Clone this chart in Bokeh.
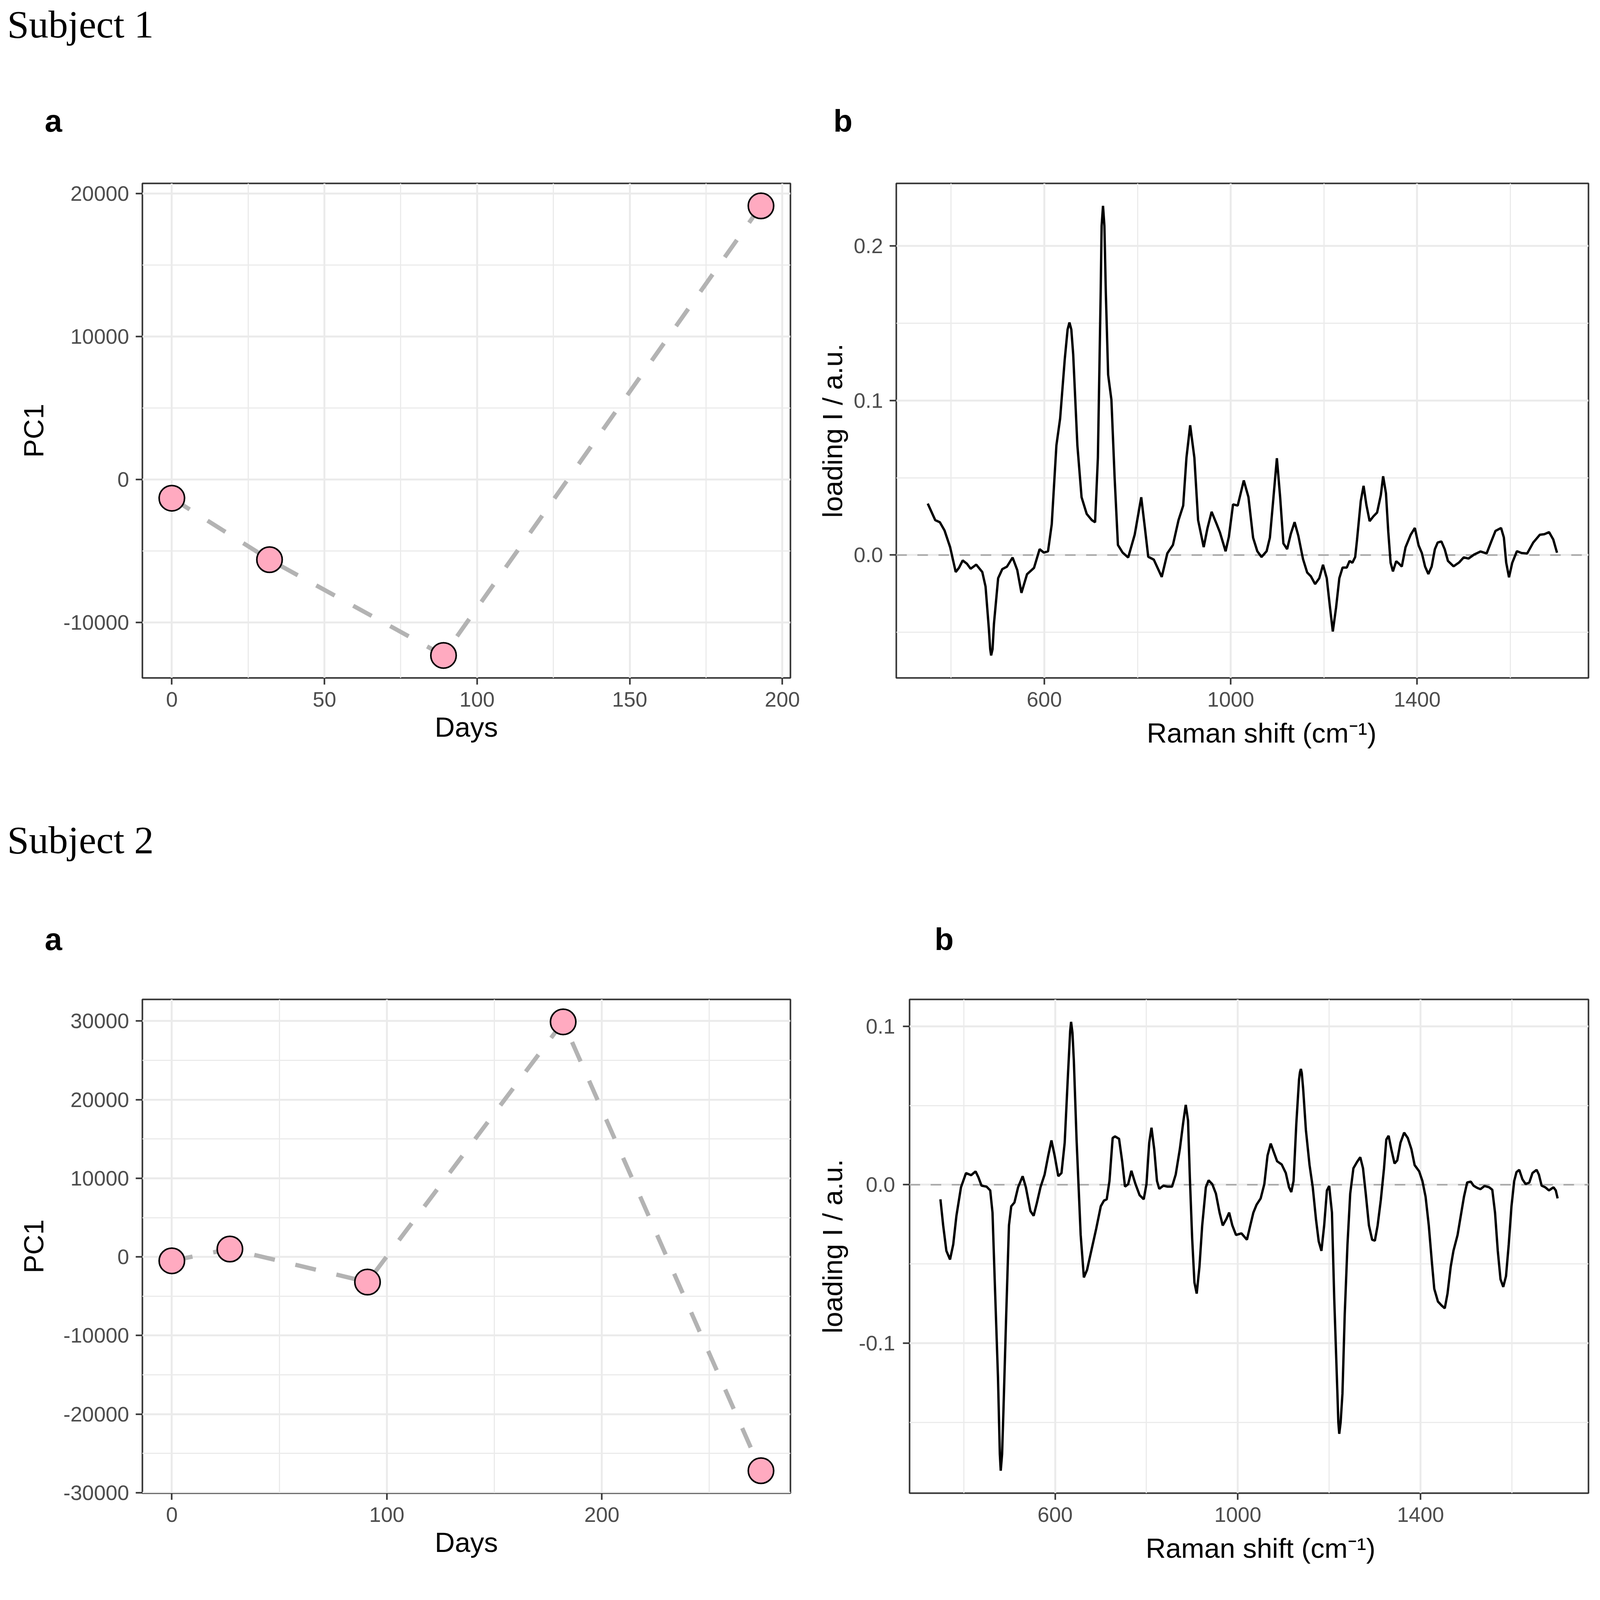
from bokeh.plotting import figure
from bokeh.layouts import column, row
from bokeh.models import Range1d, FixedTicker, PrintfTickFormatter, Span
from bokeh.core.properties import value
from bokeh.embed import file_html
from bokeh.resources import INLINE

SANS = "Liberation Sans"
SERIF = "Liberation Serif"

# ---------------- data ----------------
s1_days = [0, 32, 89, 193]
s1_pc1 = [-1300, -5600, -12300, 19150]

s2_days = [0, 27, 91, 182, 274]
s2_pc1 = [-500, 1000, -3200, 29900, -27200]

s1_shift = [350, 366, 376, 386, 398, 410, 417, 425, 434, 442, 454, 467, 474, 481, 484, 486, 489, 492, 501,
            510, 520, 532, 542, 551, 563, 578, 590, 599, 608, 616, 626, 634, 644, 650, 654, 658, 662, 671,
            680, 691, 702, 709, 715, 721, 723, 726, 729, 732, 737, 744, 751, 758, 768, 780, 794, 808, 816,
            823, 835, 852, 864, 876, 888, 898, 905, 913, 922, 930, 942, 950, 959, 970, 977, 989, 996, 1005,
            1015, 1028, 1038, 1048, 1057, 1066, 1077, 1084, 1091, 1099, 1106, 1113, 1121, 1129, 1137, 1145,
            1155, 1164, 1172, 1181, 1190, 1198, 1206, 1213, 1219, 1226, 1233, 1240, 1249, 1255, 1261, 1267,
            1271, 1279, 1285, 1291, 1298, 1306, 1314, 1322, 1327, 1333, 1338, 1343, 1348, 1355, 1361, 1367,
            1375, 1386, 1395, 1403, 1410, 1417, 1424, 1431, 1438, 1444, 1452, 1459, 1466, 1478, 1490, 1500,
            1510, 1522, 1536, 1549, 1559, 1568, 1580, 1586, 1591, 1597, 1604, 1614, 1624, 1636, 1649, 1663,
            1673, 1683, 1692, 1700]
s1_loading = [0.0333, 0.0226, 0.0212, 0.0159, 0.0051, -0.0110, -0.0083, -0.0035, -0.0056, -0.0089, -0.0062,
              -0.0110, -0.0204, -0.0473, -0.0610, -0.0650, -0.0610, -0.0446, -0.0150, -0.0091, -0.0075,
              -0.0016, -0.0097, -0.0245, -0.0124, -0.0083, 0.0038, 0.0016, 0.0024, 0.0199, 0.0710, 0.0884,
              0.1270, 0.1460, 0.1505, 0.1460, 0.1300, 0.0710, 0.0374, 0.0266, 0.0226, 0.0212, 0.0630,
              0.1700, 0.2130, 0.2260, 0.2130, 0.1700, 0.1167, 0.1005, 0.0495, 0.0065, 0.0016, -0.0016,
              0.0132, 0.0374, 0.0172, -0.0011, -0.0030, -0.0142, 0.0011, 0.0065, 0.0226, 0.0320, 0.0630,
              0.0840, 0.0630, 0.0226, 0.0051, 0.0172, 0.0280, 0.0199, 0.0145, 0.0024, 0.0118, 0.0328,
              0.0320, 0.0483, 0.0375, 0.0112, 0.0025, -0.0013, 0.0025, 0.0112, 0.0350, 0.0627, 0.0375,
              0.0075, 0.0038, 0.0138, 0.0213, 0.0125, -0.0025, -0.0113, -0.0138, -0.0188, -0.0150, -0.0063,
              -0.0150, -0.0340, -0.0495, -0.0340, -0.0150, -0.0081, -0.0081, -0.0038, -0.0050, -0.0013,
              0.0100, 0.0350, 0.0448, 0.0325, 0.0219, 0.0250, 0.0275, 0.0388, 0.0510, 0.0400, 0.0150,
              -0.0050, -0.0106, -0.0040, -0.0056, -0.0075, 0.0050, 0.0131, 0.0175, 0.0063, 0.0013, -0.0075,
              -0.0123, -0.0075, 0.0038, 0.0081, 0.0088, 0.0038, -0.0038, -0.0073, -0.0048, -0.0015,
              -0.0023, 0.0003, 0.0023, 0.0010, 0.0088, 0.0156, 0.0175, 0.0113, -0.0050, -0.0144, -0.0050,
              0.0025, 0.0013, 0.0010, 0.0081, 0.0131, 0.0135, 0.0148, 0.0100, 0.0015]

s2_shift = [349, 355, 362, 370, 377, 384, 394, 405, 416, 426, 432, 439, 450, 458, 463, 468, 475, 479, 481,
            484, 487, 493, 499, 504, 511, 519, 529, 536, 546, 553, 560, 568, 577, 585, 592, 599, 607, 614,
            621, 628, 633, 635, 638, 641, 647, 656, 663, 670, 680, 690, 700, 707, 713, 719, 726, 731, 740,
            747, 753, 760, 767, 776, 785, 794, 800, 806, 811, 817, 823, 828, 837, 846, 856, 864, 873, 881,
            886, 891, 895, 900, 905, 910, 916, 922, 930, 936, 944, 952, 960, 967, 975, 981, 988, 996, 1008,
            1020, 1027, 1034, 1041, 1050, 1058, 1065, 1072, 1079, 1086, 1096, 1105, 1112, 1117, 1122, 1128,
            1134, 1136, 1138, 1140, 1143, 1149, 1157, 1164, 1171, 1177, 1183, 1189, 1195, 1200, 1206, 1211,
            1218, 1220, 1222, 1225, 1229, 1234, 1240, 1246, 1253, 1261, 1268, 1274, 1280, 1287, 1294, 1300,
            1306, 1313, 1320, 1325, 1330, 1336, 1343, 1349, 1356, 1364, 1372, 1380, 1387, 1397, 1404, 1411,
            1418, 1425, 1430, 1438, 1446, 1453, 1459, 1466, 1472, 1481, 1488, 1495, 1502, 1510, 1516, 1524,
            1531, 1540, 1550, 1557, 1563, 1569, 1575, 1581, 1587, 1593, 1599, 1605, 1610, 1616, 1623, 1630,
            1638, 1645, 1654, 1659, 1665, 1673, 1681, 1691, 1696, 1700]
s2_loading = [-0.0092, -0.0257, -0.0417, -0.0472, -0.0377, -0.0196, -0.0016, 0.0074, 0.0060, 0.0084, 0.0048,
              -0.0006, -0.0012, -0.0036, -0.0176, -0.0617, -0.1218, -0.1700, -0.1805, -0.1700, -0.1419,
              -0.0818, -0.0257, -0.0136, -0.0112, -0.0016, 0.0054, -0.0016, -0.0166, -0.0196, -0.0116,
              -0.0016, 0.0064, 0.0184, 0.0280, 0.0184, 0.0054, 0.0074, 0.0265, 0.0685, 0.0970, 0.1028,
              0.0960, 0.0786, 0.0285, -0.0317, -0.0585, -0.0537, -0.0407, -0.0277, -0.0136, -0.0100,
              -0.0092, 0.0024, 0.0295, 0.0305, 0.0290, 0.0144, -0.0012, 0.0004, 0.0088, 0.0004, -0.0066,
              -0.0092, 0.0004, 0.0265, 0.0360, 0.0224, 0.0024, -0.0026, -0.0006, -0.0012, -0.0012, 0.0064,
              0.0224, 0.0405, 0.0504, 0.0405, 0.0044, -0.0337, -0.0617, -0.0687, -0.0517, -0.0257, -0.0016,
              0.0028, 0.0004, -0.0056, -0.0176, -0.0257, -0.0216, -0.0176, -0.0257, -0.0317, -0.0307,
              -0.0347, -0.0260, -0.0176, -0.0126, -0.0086, 0.0004, 0.0184, 0.0260, 0.0204, 0.0148, 0.0128,
              0.0074, -0.0016, -0.0046, 0.0024, 0.0385, 0.0665, 0.0710, 0.0731, 0.0705, 0.0605, 0.0345,
              0.0124, -0.0016, -0.0216, -0.0357, -0.0417, -0.0257, -0.0036, -0.0008, -0.0176, -0.0717,
              -0.1319, -0.1500, -0.1572, -0.1500, -0.1319, -0.0818, -0.0377, -0.0056, 0.0104, 0.0144,
              0.0174, 0.0104, -0.0056, -0.0257, -0.0347, -0.0353, -0.0257, -0.0096, 0.0104, 0.0285, 0.0309,
              0.0224, 0.0134, 0.0154, 0.0265, 0.0329, 0.0295, 0.0224, 0.0124, 0.0084, 0.0024, -0.0076,
              -0.0257, -0.0497, -0.0657, -0.0737, -0.0762, -0.0780, -0.0687, -0.0517, -0.0417, -0.0317,
              -0.0196, -0.0076, 0.0014, 0.0020, -0.0006, -0.0020, -0.0028, -0.0008, -0.0016, -0.0032,
              -0.0176, -0.0417, -0.0597, -0.0645, -0.0577, -0.0377, -0.0136, 0.0024, 0.0080, 0.0094, 0.0034,
              0.0004, 0.0014, 0.0074, 0.0094, 0.0064, -0.0006, -0.0016, -0.0036, -0.0016, -0.0036, -0.0086]

# tick definitions
s1_day_ticks, s1_day_minor = [0, 50, 100, 150, 200], [25, 75, 125, 175]
s1_pc_ticks, s1_pc_minor = [-10000, 0, 10000, 20000], [-5000, 5000, 15000]
s2_day_ticks, s2_day_minor = [0, 100, 200], [50, 150, 250]
s2_pc_ticks = [-30000, -20000, -10000, 0, 10000, 20000, 30000]
s2_pc_minor = [-25000, -15000, -5000, 5000, 15000, 25000]
shift_ticks, shift_minor = [600, 1000, 1400], [400, 800, 1200, 1600]
s1_load_ticks, s1_load_minor = [0.0, 0.1, 0.2], [-0.05, 0.05, 0.15]
s2_load_ticks, s2_load_minor = [-0.1, 0.0, 0.1], [-0.15, -0.05, 0.05]

RAMAN_LABEL = "Raman shift (cm\u207b\u00b9)"
NBSP = "\u00a0"

TICK_FONT = "54px"
TITLE_FONT = "71px"


def padded(vals, frac=0.05):
    lo, hi = min(vals), max(vals)
    d = (hi - lo) * frac
    return Range1d(lo - d, hi + d)


def panel(width, height, xs, ys, mb_left, mb_right, mb_top, mb_bottom):
    p = figure(width=width, height=height, x_range=padded(xs), y_range=padded(ys),
               output_backend="svg", toolbar_location=None,
               min_border_left=mb_left, min_border_right=mb_right,
               min_border_top=mb_top, min_border_bottom=mb_bottom)
    p.background_fill_color = "white"
    p.border_fill_color = "white"
    p.outline_line_color = "#333333"
    p.outline_line_width = 4
    return p


def style_axes(p, xt, xm, yt, ym, xfmt, yfmt, xlabel, ylabel,
               y_label_standoff, y_tick_standoff, x_label_standoff):
    xtk = FixedTicker(ticks=xt, minor_ticks=xm)
    ytk = FixedTicker(ticks=yt, minor_ticks=ym)
    p.xaxis.ticker = xtk
    p.yaxis.ticker = ytk
    p.xgrid.ticker = xtk
    p.ygrid.ticker = ytk
    p.xaxis.formatter = PrintfTickFormatter(format=xfmt)
    p.yaxis.formatter = PrintfTickFormatter(format=yfmt)
    for g in (p.xgrid[0], p.ygrid[0]):
        g.grid_line_color = "#EBEBEB"
        g.grid_line_width = 5
        g.minor_grid_line_color = "#EBEBEB"
        g.minor_grid_line_width = 3
    for ax in (p.xaxis[0], p.yaxis[0]):
        ax.axis_line_color = None
        ax.major_tick_line_color = "#333333"
        ax.major_tick_line_width = 4
        ax.major_tick_out = 17
        ax.major_tick_in = 0
        ax.minor_tick_line_color = None
        ax.major_label_text_font = SANS
        ax.major_label_text_font_size = TICK_FONT
        ax.major_label_text_color = "#4D4D4D"
        ax.axis_label_text_font = SANS
        ax.axis_label_text_font_size = TITLE_FONT
        ax.axis_label_text_font_style = "normal"
        ax.axis_label_text_color = "black"
    p.xaxis[0].axis_label = xlabel
    p.yaxis[0].axis_label = ylabel
    p.xaxis[0].major_label_standoff = 19
    p.xaxis[0].axis_label_standoff = x_label_standoff
    p.yaxis[0].major_label_standoff = y_tick_standoff
    p.yaxis[0].axis_label_standoff = y_label_standoff


def pc_panel(height, mb_top, mb_bottom, days, pc1, xt, xm, yt, ym):
    p = panel(2060, height, days, pc1, 364, 37, mb_top, mb_bottom)
    style_axes(p, xt, xm, yt, ym, "%d", "%d", "Days", "PC1", 33, 17, 10)
    p.line(days, pc1, line_color="#B3B3B3", line_width=11, line_dash="54 54")
    p.scatter(days, pc1, size=65, marker="circle", fill_color="#FFAAC0",
              line_color="black", line_width=4)
    return p


def spec_panel(height, mb_top, mb_bottom, mb_left, shift, load, yt, ym, lab_standoff, tick_standoff, pad):
    p = panel(2034, height, shift, load, mb_left, 28, mb_top, mb_bottom)
    style_axes(p, shift_ticks, shift_minor, yt, ym, "%d", "%.1f",
               NBSP * pad + RAMAN_LABEL, "loading I / a.u.", lab_standoff, tick_standoff, 25)
    zero = Span(location=0, dimension="width", line_color="#AAAAAA", line_width=4,
                line_dash="27 27", level="underlay")
    p.add_layout(zero)
    p.line(shift, load, line_color="black", line_width=6)
    return p


def header(height, items):
    p = figure(width=4094, height=height, x_range=Range1d(0, 4094), y_range=Range1d(height, 0),
               output_backend="svg", toolbar_location=None, min_border=0,
               x_axis_location=None, y_axis_location=None)
    p.grid.visible = False
    p.outline_line_color = None
    p.background_fill_color = "white"
    p.border_fill_color = "white"
    for (x, y, txt, font, size, style) in items:
        p.text(x=[x], y=[y], text=[txt], text_font=value(font), text_font_size=size,
               text_font_style=style, text_baseline="alphabetic", text_align="left",
               text_color="black")
    return p


h1 = header(424, [(18, 62, "Subject 1", SERIF, "100px", "normal"),
                  (114, 309, "a", SANS, "80px", "bold"),
                  (2133, 309, "b", SANS, "80px", "bold")])

a1 = pc_panel(1526, 45, 215, s1_days, s1_pc1, s1_day_ticks, s1_day_minor, s1_pc_ticks, s1_pc_minor)
b1 = spec_panel(1526, 45, 215, 234, s1_shift, s1_loading, s1_load_ticks, s1_load_minor, 11, 17, 5)

h2 = header(571, [(18, 200, "Subject 2", SERIF, "100px", "normal"),
                  (114, 454, "a", SANS, "80px", "bold"),
                  (2392, 454, "b", SANS, "80px", "bold")])

a2 = pc_panel(1506, 37, 205, s2_days, s2_pc1, s2_day_ticks, s2_day_minor, s2_pc_ticks, s2_pc_minor)
b2 = spec_panel(1506, 37, 205, 268, s2_shift, s2_loading, s2_load_ticks, s2_load_minor, 24, 20, 3)

layout = column(h1, row(a1, b1), h2, row(a2, b2))

open("out.html", "w").write(file_html(layout, INLINE))
